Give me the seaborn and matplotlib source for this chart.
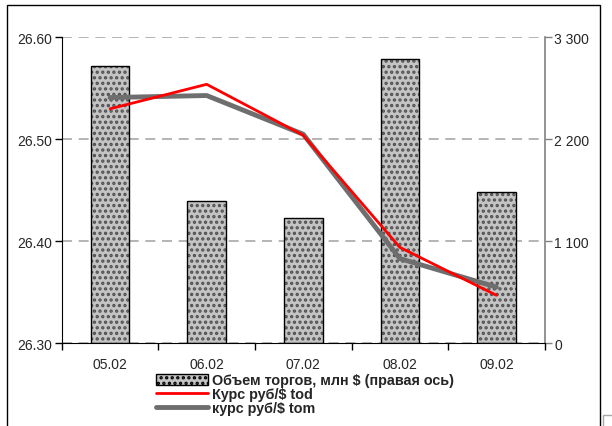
import numpy as np
import pandas as pd
import matplotlib
matplotlib.use("Agg")
import matplotlib.pyplot as plt
import matplotlib.patches as mpatches
from matplotlib.lines import Line2D
from matplotlib.ticker import FixedLocator, FuncFormatter
import seaborn as sns

# Данные с графика
fechas = ["05.02", "06.02", "07.02", "08.02", "09.02"]
volumen = [2994, 1533, 1350, 3063, 1630]          # млн $, правая ось
kurs_tod = [26.530, 26.554, 26.504, 26.394, 26.347]
kurs_tom = [26.541, 26.543, 26.505, 26.383, 26.355]

etiqueta_vol = "Объем торгов, млн $ (правая ось)"
etiqueta_tod = "Курс руб/$ tod"
etiqueta_tom = "курс руб/$ tom"

sns.set_style("white")
plt.rcParams["font.family"] = ["Liberation Sans", "DejaVu Sans"]
plt.rcParams["hatch.linewidth"] = 1.6

df = pd.DataFrame({"fecha": fechas, "vol": volumen, "tod": kurs_tod, "tom": kurs_tom})
df["pos"] = np.arange(len(df))

fig = plt.figure(figsize=(6.12, 4.27), dpi=100)
ax = fig.add_axes([0.101, 0.194, 0.789, 0.716])
ax2 = ax.twinx()

# barras en el eje derecho
sns.barplot(data=df, x="fecha", y="vol", ax=ax2, color="#c4c4c4", width=0.4,
            saturation=1, edgecolor="#505050", linewidth=0)
for p in ax2.patches:
    p.set_hatch("...")
    p.set_edgecolor("#505050")
    p.set_linewidth(0)
ax2.bar(df["pos"], df["vol"], width=0.4, fill=False, edgecolor="black", linewidth=1.0, zorder=3)

# lineas en el eje izquierdo
sns.lineplot(data=df, x="pos", y="tom", ax=ax, color="#6e6e6e", linewidth=3.5, sort=False)
sns.lineplot(data=df, x="pos", y="tod", ax=ax, color="red", linewidth=2.0, sort=False)

ax.set_zorder(ax2.get_zorder() + 1)
ax.patch.set_visible(False)

ax.set_ylim(26.30, 26.60)
ax.set_yticks([26.30, 26.40, 26.50, 26.60])
ax.yaxis.set_major_formatter(FuncFormatter(lambda v, p: f"{v:.2f}"))
ax2.set_ylim(0, 3300)
ax2.set_yticks([0, 1100, 2200, 3300])
ax2.yaxis.set_major_formatter(FuncFormatter(lambda v, p: f"{int(v):,}".replace(",", " ")))

ax2.grid(axis="y", color="#a8a8a8", linestyle=(0, (6, 4)), linewidth=1.2)
ax2.set_axisbelow(True)
ax.grid(False)

ax.set_xlim(-0.5, len(fechas) - 0.5)
ax.xaxis.set_major_locator(FixedLocator(np.arange(len(fechas) + 1) - 0.5))
ax.xaxis.set_major_formatter(FuncFormatter(lambda v, p: ""))
ax.xaxis.set_minor_locator(FixedLocator(np.arange(len(fechas))))
ax.set_xticks(np.arange(len(fechas)), fechas, minor=True)
ax.tick_params(axis="x", which="major", direction="out", length=5, width=1, color="black", bottom=True)
ax.tick_params(axis="x", which="minor", length=0, labelsize=10, pad=10)
ax.tick_params(axis="y", direction="out", length=5, width=1, color="black", labelsize=10, left=True, pad=2)
ax2.tick_params(axis="y", direction="out", length=5, width=1, color="#808080", labelsize=10, right=True, pad=2)

ax.set_xlabel("")
ax.set_ylabel("")
ax2.set_ylabel("")

for a in (ax, ax2):
    a.spines["top"].set_visible(False)
ax.spines["left"].set_color("black")
ax.spines["bottom"].set_color("black")
ax.spines["right"].set_visible(False)
ax2.spines["left"].set_visible(False)
ax2.spines["bottom"].set_visible(False)
ax2.spines["right"].set_color("#808080")
ax2.spines["right"].set_linewidth(1.2)

handles = [
    mpatches.Patch(facecolor="#c4c4c4", edgecolor="black", hatch="...", linewidth=1.0),
    Line2D([], [], color="red", linewidth=2.0),
    Line2D([], [], color="#6e6e6e", linewidth=3.5),
]
fig.legend(handles, [etiqueta_vol, etiqueta_tod, etiqueta_tom],
           loc="upper left", bbox_to_anchor=(0.255, 0.124), frameon=False,
           prop={"weight": "bold", "size": 10.4}, handlelength=3.6, handleheight=0.8,
           handletextpad=0.3, labelspacing=0.0, borderpad=0, borderaxespad=0)

# marco exterior
fig.patches.append(mpatches.Rectangle((0.0114, -0.1), 0.969, 1.086, transform=fig.transFigure,
                                      fill=False, edgecolor="black", linewidth=1.0))
fig.patches.append(mpatches.Rectangle((0.986, -0.1), 0.1, 0.126, transform=fig.transFigure,
                                      fill=False, edgecolor="#a8a8a8", linewidth=1.0))

fig.savefig("out.png", dpi=100)
